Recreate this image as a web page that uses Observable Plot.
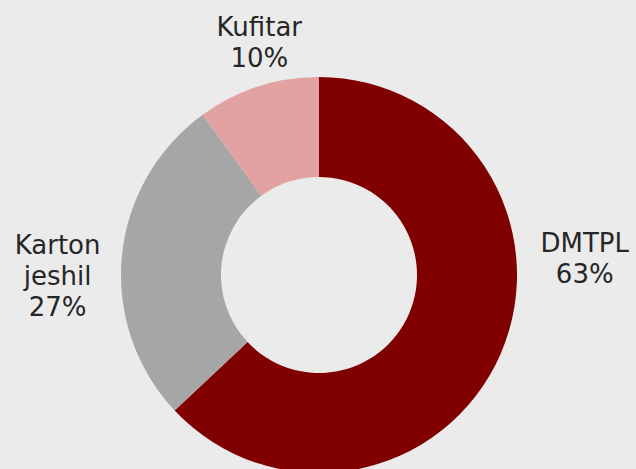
<!DOCTYPE html>
<html><head><meta charset="utf-8">
<script src="https://cdn.jsdelivr.net/npm/d3@7"></script>
<script src="https://cdn.jsdelivr.net/npm/@observablehq/plot@0.6"></script>
<style>html,body{margin:0;padding:0;background:#ebebeb;overflow:hidden}</style>
</head><body><div id="chart"></div>
<script>
// Data
const categories = ["DMTPL", "Karton jeshil", "Kufitar"];
const labelText = ["DMTPL", "Karton\njeshil", "Kufitar"];
const shares = [63, 27, 10];
const colors = ["#800000", "#a6a6a6", "#e2a2a2"];

// Layout (pixel units, center of donut = 0,0, y up)
const outerR = 198, innerR = 98, labelR = 240;
const labelNudge = {"DMTPL": [45, 113], "Karton jeshil": [-23, -22], "Kufitar": [14, 6]};

const data = categories.map((c, i) => ({category: c, label: labelText[i] + "\n" + shares[i] + "%", share: shares[i]}));
const total = d3.sum(shares);
let acc = 0;
data.forEach(d => { d.mid = (acc + d.share / 2) / total * 2 * Math.PI; acc += d.share; });
data.forEach(d => {
  const n = labelNudge[d.category];
  d.lx = labelR * Math.sin(d.mid) + n[0];
  d.ly = labelR * Math.cos(d.mid) + n[1];
});

const color = Plot.scale({color: {domain: categories, range: colors}});

function donut(index, scales) {
  const cx = scales.x(0), cy = scales.y(0);
  const R = Math.abs(scales.x(outerR) - cx), r = Math.abs(scales.x(innerR) - cx);
  const arcs = d3.pie().sort(null).value(d => d.share)(data);
  const arc = d3.arc().innerRadius(r).outerRadius(R);
  const g = d3.create("svg:g").attr("transform", `translate(${cx},${cy})`);
  g.selectAll("path").data(arcs).join("path")
    .attr("d", arc)
    .attr("fill", d => color.apply(d.data.category));
  return g.node();
}

const chart = Plot.plot({
  width: 636, height: 469, margin: 0,
  style: {background: "#ebebeb", fontFamily: "'DejaVu Sans', Verdana, sans-serif"},
  x: {domain: [-319, 317], axis: null},
  y: {domain: [-194, 275], axis: null},
  marks: [
    donut,
    Plot.text(data, {x: "lx", y: "ly", text: "label", fontSize: 26, lineHeight: 1.2, fill: "#262626", textAnchor: "middle"})
  ]
});
document.getElementById("chart").append(chart);
</script>
</body></html>
